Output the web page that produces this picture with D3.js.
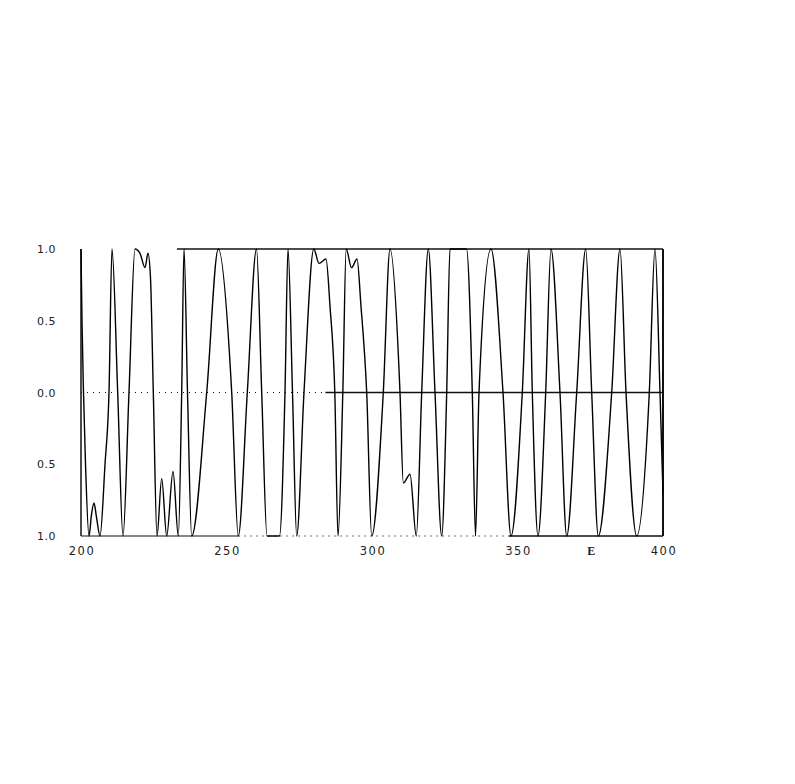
<!DOCTYPE html>
<html>
<head>
<meta charset="utf-8">
<script src="https://cdn.jsdelivr.net/npm/d3@7"></script>
<style>
  body { margin: 0; background: #fff; }
  text { font-family: "DejaVu Sans", sans-serif; fill: #222; }
</style>
</head>
<body>
<div id="chart"></div>
<script>
// curve: energy E and value (extrema + zero crossings)
const eValues = [
  200.0, 200.34, 200.86, 201.55, 202.75, 203.61, 204.47, 205.33, 206.53, 208.25,
  209.62, 210.65, 212.61, 214.43, 216.49, 218.56, 220.27, 221.99, 223.02, 223.88,
  224.85, 226.12, 227.73, 229.45, 231.62, 233.44, 234.60, 235.40, 236.60, 238.04,
  243.20, 247.18, 251.79, 254.05, 257.15, 260.31, 262.10, 263.92, 268.21, 270.10,
  271.13, 272.68, 274.12, 276.63, 280.00, 281.79, 284.19, 285.57, 287.22, 288.32,
  289.97, 291.13, 292.96, 294.85, 296.22, 298.18, 299.90, 303.88, 306.19, 309.62,
  310.76, 313.06, 315.22, 317.08, 319.35, 321.65, 323.95, 325.67, 326.80, 332.47,
  334.47, 335.57, 336.77, 340.89, 345.02, 347.77, 351.65, 353.95, 355.09, 357.04,
  359.69, 361.51, 364.60, 366.91, 370.34, 373.44, 375.50, 377.77, 382.37, 385.22,
  387.29, 390.96, 395.29, 397.25, 398.97, 400.0
];
const yValues = [
  1.0, 0.5, 0, -0.5, -1.0, -0.85, -0.77, -0.87, -1.0, -0.5,
  0, 1.0, 0, -1.0, 0, 1.0, 0.97, 0.87, 0.97, 0.8,
  0, -1.0, -0.6, -1.0, -0.55, -1.0, 0, 1.0, 0, -1.0,
  0, 1.0, 0, -1.0, 0, 1.0, 0, -1.0, -1.0, 0,
  1.0, 0, -1.0, 0, 1.0, 0.9, 0.93, 0.6, 0, -1.0,
  0, 1.0, 0.87, 0.93, 0.6, 0, -1.0, 0, 1.0, 0,
  -0.63, -0.57, -1.0, 0, 1.0, 0, -1.0, 0, 1.0, 1.0,
  0, -1.0, 0, 1.0, 0, -1.0, 0, 1.0, 0, -1.0,
  0, 1.0, 0, -1.0, 0, 1.0, 0, -1.0, 0, 1.0,
  0, -1.0, 0, 1.0, 0, -0.7
];

const xTickValues = [200, 250, 300, 350, 400];
const xTickLabels = ["200", "250", "300", "350", "400"];
const yTickValues = [1, 0.5, 0, -0.5, -1];
const yTickLabels = ["1.0", "0.5", "0.0", "0.5", "1.0"]; // minus signs lost in the scan
const xTitle = "E";

const WIDTH = 795, HEIGHT = 784;
const X0 = 81, X1 = 663, YTOP = 249, YBOT = 536;

const svg = d3.select("#chart").append("svg")
  .attr("width", WIDTH).attr("height", HEIGHT);

svg.append("rect").attr("width", WIDTH).attr("height", HEIGHT).attr("fill", "#fff");

const x = d3.scaleLinear().domain([200, 400]).range([X0, X1]);
const y = d3.scaleLinear().domain([-1, 1]).range([YBOT, YTOP]);

const frame = svg.append("g").attr("stroke", "#111").attr("fill", "none");

// left and right borders
frame.append("line").attr("x1", x(200)).attr("x2", x(200))
  .attr("y1", y(1)).attr("y2", y(-1)).attr("stroke-width", 1.5);
frame.append("line").attr("x1", x(400)).attr("x2", x(400))
  .attr("y1", y(1)).attr("y2", y(-1)).attr("stroke-width", 2);

// top border only partly printed
frame.append("line").attr("x1", x(233)).attr("x2", x(400))
  .attr("y1", y(1)).attr("y2", y(1)).attr("stroke-width", 1.3);

// bottom border: solid, faint, solid
frame.append("line").attr("x1", x(200)).attr("x2", x(254))
  .attr("y1", y(-1)).attr("y2", y(-1)).attr("stroke-width", 1.2);
frame.append("line").attr("x1", x(254)).attr("x2", x(347))
  .attr("y1", y(-1)).attr("y2", y(-1)).attr("stroke-width", 1)
  .attr("stroke-dasharray", "2,4").attr("stroke", "#666");
frame.append("line").attr("x1", x(347)).attr("x2", x(400))
  .attr("y1", y(-1)).attr("y2", y(-1)).attr("stroke-width", 1.3);

// zero line: dotted on the left, solid afterwards
frame.append("line").attr("x1", x(200)).attr("x2", x(284))
  .attr("y1", y(0)).attr("y2", y(0)).attr("stroke-width", 1)
  .attr("stroke-dasharray", "1,5");
frame.append("line").attr("x1", x(284)).attr("x2", x(400))
  .attr("y1", y(0)).attr("y2", y(0)).attr("stroke-width", 1.3);

// curve
const pts = eValues.map((e, i) => ({ e: e, v: yValues[i] }));
const line = d3.line()
  .x(d => x(d.e))
  .y(d => y(d.v))
  .curve(d3.curveMonotoneX);

svg.append("path")
  .datum(pts)
  .attr("d", line)
  .attr("fill", "none")
  .attr("stroke", "#000")
  .attr("stroke-width", 1.4);

// tick labels
svg.selectAll("text.ylab").data(yTickValues).enter().append("text")
  .attr("class", "ylab")
  .attr("x", 56)
  .attr("y", d => y(d) + 4)
  .attr("text-anchor", "end")
  .attr("font-size", 11)
  .attr("letter-spacing", 0.5)
  .text((d, i) => yTickLabels[i]);

svg.selectAll("text.xlab").data(xTickValues).enter().append("text")
  .attr("class", "xlab")
  .attr("x", d => x(d) + 1)
  .attr("y", 555)
  .attr("text-anchor", "middle")
  .attr("font-size", 11.5)
  .attr("letter-spacing", 1.5)
  .text((d, i) => xTickLabels[i]);

svg.append("text")
  .attr("x", x(375) + 1)
  .attr("y", 555)
  .attr("text-anchor", "middle")
  .attr("font-size", 12)
  .attr("font-weight", "bold")
  .style("font-family", "'Liberation Serif', serif")
  .text(xTitle);
</script>
</body>
</html>
